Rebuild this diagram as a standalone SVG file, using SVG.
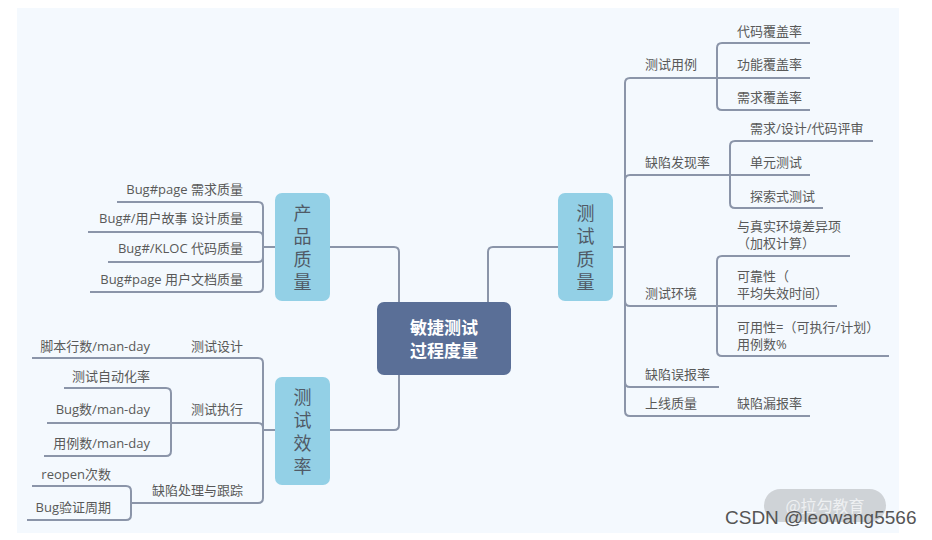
<svg xmlns="http://www.w3.org/2000/svg" width="932" height="540" viewBox="0 0 932 540">
<style>
.lbl{font-family:"Open Sans","Noto Sans CJK SC",sans-serif;font-size:13px;fill:#595959}
.r{text-anchor:end}
.nd{fill:#93d0e6}
.ndt{font-family:"Noto Sans CJK SC",sans-serif;font-size:18px;fill:#505a66;text-anchor:middle;writing-mode:tb;letter-spacing:5px}
.ct{font-family:"Noto Sans CJK SC",sans-serif;font-size:17px;font-weight:bold;fill:#ffffff;text-anchor:middle}
.ln{fill:none;stroke:#8b95a9;stroke-width:2}
</style>
<rect x="0" y="0" width="932" height="540" fill="#ffffff"/>
<rect x="17" y="8" width="882" height="525" fill="#f4f9fe"/>
<g id="connectors" class="ln">
<path d="M399,302 V252 Q399,247 394,247 H329"/>
<path d="M488,302 V252 Q488,247 493,247 H558"/>
<path d="M399,375 V425 Q399,430 394,430 H329"/>
<path d="M613,247 H625"/>
<path d="M625,247 V83 Q625,78 630,78 H810"/>
<path d="M625,247 V180 Q625,175 630,175 H810"/>
<path d="M625,247 V301 Q625,306 630,306 H837"/>
<path d="M625,247 V382 Q625,387 630,387 H719"/>
<path d="M625,247 V411 Q625,416 630,416 H810"/>
<path d="M717,78 V48 Q717,43 722,43 H810"/>
<path d="M717,78 V105 Q717,110 722,110 H810"/>
<path d="M730,175 V146 Q730,141 735,141 H873"/>
<path d="M730,175 V203 Q730,208 735,208 H823"/>
<path d="M717,306 V261 Q717,256 722,256 H850"/>
<path d="M717,306 V351 Q717,356 722,356 H889"/>
<path d="M275,247 H263"/>
<path d="M263,247 V207 Q263,202 258,202 H117"/>
<path d="M263,247 V237 Q263,232 258,232 H88"/>
<path d="M263,247 V257 Q263,262 258,262 H108"/>
<path d="M263,247 V287 Q263,292 258,292 H90"/>
<path d="M275,430 H263"/>
<path d="M263,430 V363 Q263,358 258,358 H32"/>
<path d="M263,430 V428 Q263,423 258,423 H47"/>
<path d="M263,430 V498 Q263,503 258,503 H131"/>
<path d="M171,423 V393 Q171,388 166,388 H64"/>
<path d="M171,423 V451 Q171,456 166,456 H44"/>
<path d="M131,503 V491 Q131,486 126,486 H32"/>
<path d="M131,503 V515 Q131,520 126,520 H27"/>
</g>
<g id="central">
<rect x="377" y="302" width="134" height="73" rx="7" fill="#5a6f97"/>
<text class="ct" x="444" y="334">敏捷测试</text>
<text class="ct" x="444" y="357">过程度量</text>
</g>
<g id="node-quality-test">
<rect class="nd" x="558" y="193" width="55" height="108" rx="7"/>
<text class="ndt" x="585.5" y="250">测试质量</text>
</g>
<g id="node-quality-product">
<rect class="nd" x="275" y="193" width="55" height="108" rx="7"/>
<text class="ndt" x="302.5" y="250">产品质量</text>
</g>
<g id="node-efficiency">
<rect class="nd" x="275" y="377" width="55" height="108" rx="7"/>
<text class="ndt" x="302.5" y="434">测试效率</text>
</g>
<g id="labels-right">
<text class="lbl" x="645" y="69">测试用例</text>
<text class="lbl" x="737" y="36">代码覆盖率</text>
<text class="lbl" x="737" y="69">功能覆盖率</text>
<text class="lbl" x="737" y="102">需求覆盖率</text>
<text class="lbl" x="645" y="167">缺陷发现率</text>
<text class="lbl" x="750" y="133">需求/设计/代码评审</text>
<text class="lbl" x="750" y="167">单元测试</text>
<text class="lbl" x="750" y="201">探索式测试</text>
<text class="lbl" x="645" y="298">测试环境</text>
<text class="lbl" x="737" y="231">与真实环境差异项<tspan x="737" dy="17">（加权计算）</tspan></text>
<text class="lbl" x="737" y="281">可靠性（<tspan x="737" dy="17">平均失效时间）</tspan></text>
<text class="lbl" x="737" y="332">可用性=（可执行/计划）<tspan x="737" dy="17">用例数%</tspan></text>
<text class="lbl" x="645" y="379">缺陷误报率</text>
<text class="lbl" x="645" y="408">上线质量</text>
<text class="lbl" x="737" y="408">缺陷漏报率</text>
</g>
<g id="labels-left">
<text class="lbl r" x="243" y="194">Bug#page 需求质量</text>
<text class="lbl r" x="243" y="223">Bug#/用户故事 设计质量</text>
<text class="lbl r" x="243" y="253">Bug#/KLOC 代码质量</text>
<text class="lbl r" x="243" y="284">Bug#page 用户文档质量</text>
<text class="lbl r" x="243" y="351">测试设计</text>
<text class="lbl r" x="150" y="351">脚本行数/man-day</text>
<text class="lbl r" x="243" y="414">测试执行</text>
<text class="lbl r" x="150" y="381">测试自动化率</text>
<text class="lbl r" x="150" y="414">Bug数/man-day</text>
<text class="lbl r" x="150" y="448">用例数/man-day</text>
<text class="lbl r" x="243" y="495">缺陷处理与跟踪</text>
<text class="lbl r" x="111" y="479">reopen次数</text>
<text class="lbl r" x="111" y="512">Bug验证周期</text>
</g>
<g id="watermark">
<rect x="764" y="489" width="122" height="33" rx="16.5" fill="#cfd3d7"/>
<text x="825" y="512" font-family="Noto Sans CJK SC,sans-serif" font-size="16" fill="#eef0f2" text-anchor="middle">@拉勾教育</text>
<text x="725" y="524" font-family="Liberation Sans,Arial,sans-serif" font-size="19" fill="#555555">CSDN @leowang5566</text>
</g>
</svg>
